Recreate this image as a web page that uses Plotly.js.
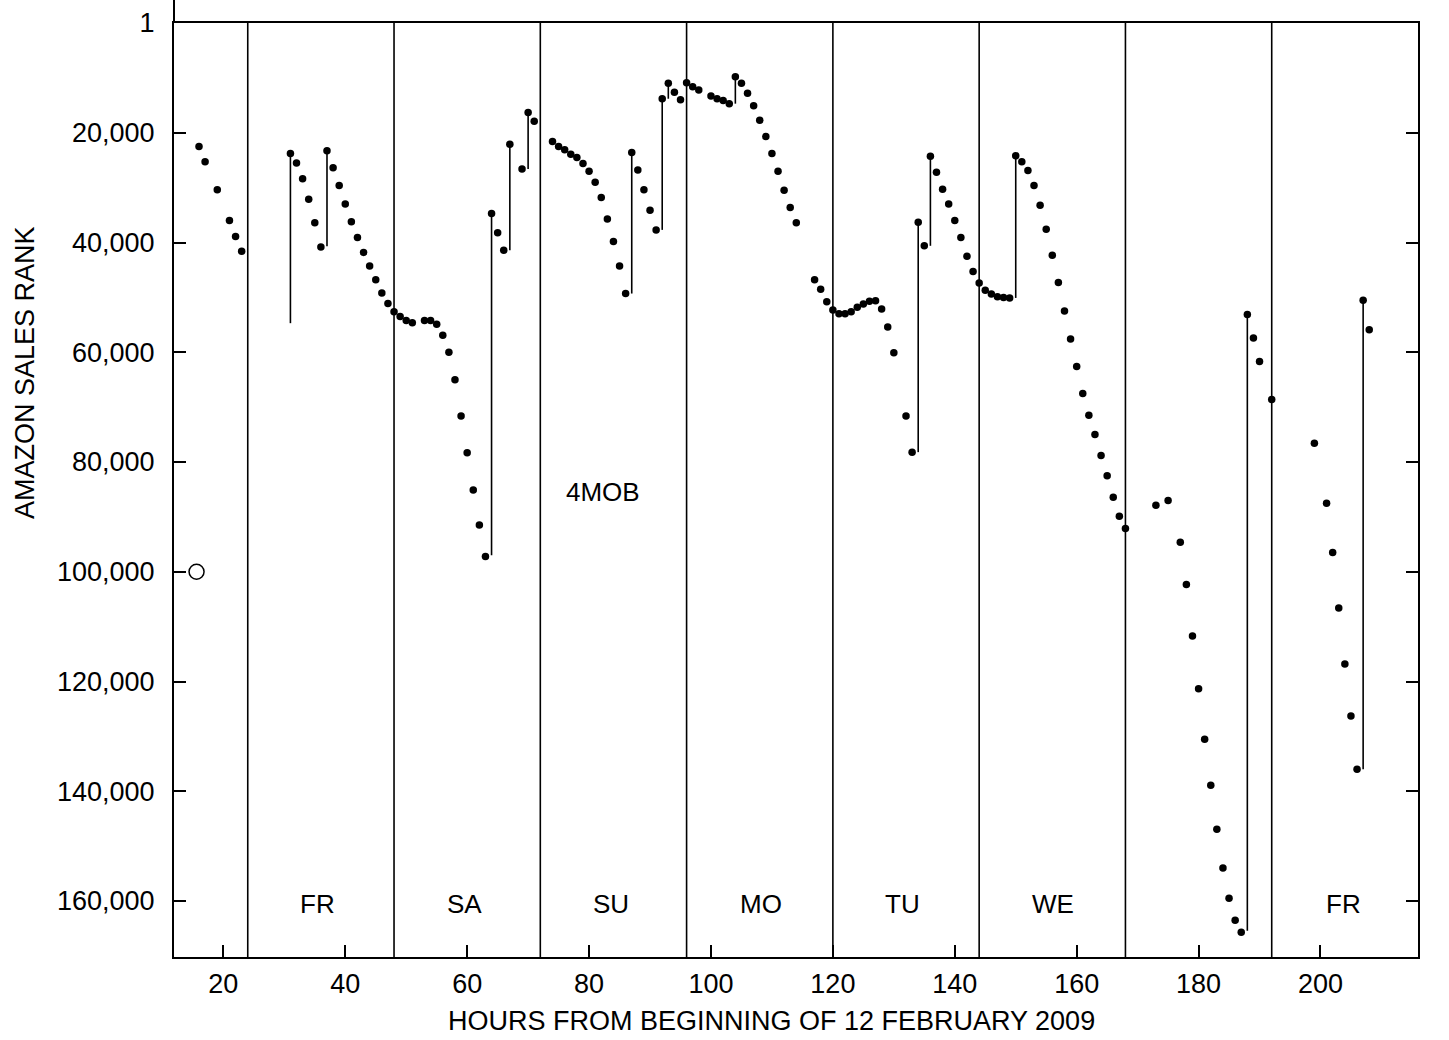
<!DOCTYPE html>
<html>
<head>
<meta charset="utf-8">
<script src="https://cdn.plot.ly/plotly-3.0.1.min.js"></script>
<style>html,body{margin:0;padding:0;background:#fff;}#chart{width:1449px;height:1040px;}</style>
</head>
<body>
<div id="chart"></div>
<script>
// Hourly observations (hours from beginning of 12 Feb 2009, Amazon sales rank)
const hours = [16,17,19,21,22,23,
  31,32,33,34,35,36,37,38,39,40,41,42,43,44,45,46,47,48,
  49,50,51,53,54,55,56,57,58,59,60,61,62,63,64,65,66,67,69,70,71,
  74,75,76,77,78,79,80,81,82,83,84,85,86,87,88,89,90,91,92,93,94,95,96,
  97,98,100,101,102,103,104,105,106,107,108,109,110,111,112,113,114,117,118,119,120,
  121,122,123,124,125,126,127,128,129,130,132,133,134,135,136,137,138,139,140,141,142,143,144,
  145,146,147,148,149,150,151,152,153,154,155,156,157,158,159,160,161,162,163,164,165,166,167,168,
  173,175,177,178,179,180,181,182,183,184,185,186,187,188,189,190,192,
  199,201,202,203,204,205,206,207,208];
const rank = [22500,25300,30400,36000,38900,41600,
  23800,25500,28400,32100,36400,40800,23300,26400,29600,33000,36200,39100,41800,44300,46800,49200,51100,52600,
  53500,54200,54600,54200,54200,54900,56900,60000,65000,71600,78300,85100,91500,97200,34700,38200,41400,22100,26600,16300,17900,
  21600,22500,23100,23900,24500,25600,27000,29000,31800,35700,39800,44300,49300,23600,26800,30400,34100,37700,13800,11000,12600,14000,10900,
  11600,12200,13300,13800,14100,14700,9800,11000,12800,15100,17700,20700,23800,27000,30500,33600,36400,46800,48500,50800,52300,
  53000,53000,52600,51800,51200,50700,50600,52100,55400,60100,71600,78200,36300,40600,24300,27200,30300,33000,36000,39100,42500,45300,47400,
  48700,49400,49900,50000,50100,24200,25300,26900,29600,33200,37600,42300,47300,52500,57600,62600,67500,71500,75000,78800,82500,86400,89900,92100,
  87900,87000,94600,102300,111700,121300,130500,138900,146900,154000,159500,163500,165700,53100,57400,61700,68600,
  76600,87500,96500,106600,116800,126300,136000,50500,55900];

// Vertical jumps (hour, rank before, rank after)
const jumpHours = [31,37,64,67,70,87,92,93,104,134,136,150,188,207];
const jumpFrom  = [54700,40700,97000,41400,26600,49300,37700,13800,14700,78200,40600,50100,165400,136000];
const jumpTo    = [23800,23300,34700,22100,16300,23600,13800,11000,9800,36300,24300,24200,53100,50500];

// Open-circle starting observation
const startHour = [15.6];
const startRank = [100000];

// Day boundaries and labels
const dayLines = [24,48,72,96,120,144,168,192];
const dayLabels = ['FR','SA','SU','MO','TU','WE','FR'];
const dayLabelHours = [35.5,59.5,83.6,108.2,131.4,156.1,203.7];
const dayLabelRank = 160500;
const noteText = '4MOB';
const noteHour = 82.3;
const noteRank = 85400;

// Tick labels
const xTicks = [20,40,60,80,100,120,140,160,180,200];
const yTicks = [1,20000,40000,60000,80000,100000,120000,140000,160000];
const yTickText = ['1','20,000','40,000','60,000','80,000','100,000','120,000','140,000','160,000'];

const FONT = 'Liberation Sans, Arial, Helvetica, sans-serif';

const jx = [], jy = [];
jumpHours.forEach((h, i) => { jx.push(h, h, null); jy.push(jumpFrom[i], jumpTo[i], null); });

const traces = [
  {x: jx, y: jy, mode: 'lines', type: 'scatter', line: {color: '#000', width: 1.6}, hoverinfo: 'skip', showlegend: false},
  {x: hours, y: rank, mode: 'markers', type: 'scatter', marker: {color: '#000', size: 7.5}, showlegend: false},
  {x: startHour, y: startRank, mode: 'markers', type: 'scatter',
   marker: {symbol: 'circle-open', color: '#000', size: 15, line: {width: 1.5, color: '#000'}}, showlegend: false}
];

const shapes = dayLines.map(d => ({type: 'line', xref: 'x', yref: 'paper', x0: d, x1: d, y0: 0, y1: 1,
  line: {color: '#000', width: 1.6}}));
shapes.push({type: 'line', xref: 'paper', yref: 'paper', x0: 0, x1: 0, y0: 1, y1: 1.025, line: {color: '#000', width: 2}});

const annotations = dayLabels.map((t, i) => ({x: dayLabelHours[i], y: dayLabelRank, xref: 'x', yref: 'y', text: t,
  showarrow: false, font: {family: FONT, size: 26, color: '#000'}}));
annotations.push({x: noteHour, y: noteRank, xref: 'x', yref: 'y', text: noteText, showarrow: false,
  font: {family: FONT, size: 26, color: '#000'}});
annotations.push({x: 0.4807, y: -0.0685, xref: 'paper', yref: 'paper', text: 'HOURS FROM BEGINNING OF 12 FEBRUARY 2009',
  showarrow: false, xanchor: 'center', yanchor: 'middle', font: {family: FONT, size: 27, color: '#000'}});
annotations.push({x: -0.1198, y: 0.6263, xref: 'paper', yref: 'paper', text: 'AMAZON SALES RANK', textangle: -90,
  showarrow: false, xanchor: 'center', yanchor: 'middle', font: {family: FONT, size: 27, color: '#000'}});

const layout = {
  width: 1449, height: 1040,
  margin: {l: 174, r: 31, t: 23, b: 83, pad: 0},
  paper_bgcolor: '#fff', plot_bgcolor: '#fff',
  showlegend: false,
  xaxis: {range: [11.9, 216], tickvals: xTicks, ticktext: xTicks.map(String),
    ticks: 'inside', ticklen: 12, tickwidth: 2, tickcolor: '#000',
    showline: true, linecolor: '#000', linewidth: 2, mirror: true,
    showgrid: false, zeroline: false, ticklabelstandoff: 2,
    tickfont: {family: FONT, size: 27, color: '#000'}},
  yaxis: {range: [170200, 0], tickvals: yTicks, ticktext: yTickText,
    ticks: 'inside', ticklen: 12, tickwidth: 2, tickcolor: '#000',
    showline: true, linecolor: '#000', linewidth: 2, mirror: 'ticks',
    showgrid: false, zeroline: false, ticklabelstandoff: 12,
    tickfont: {family: FONT, size: 27, color: '#000'}},
  shapes: shapes,
  annotations: annotations
};

Plotly.newPlot('chart', traces, layout, {displayModeBar: false, staticPlot: true});
</script>
</body>
</html>
